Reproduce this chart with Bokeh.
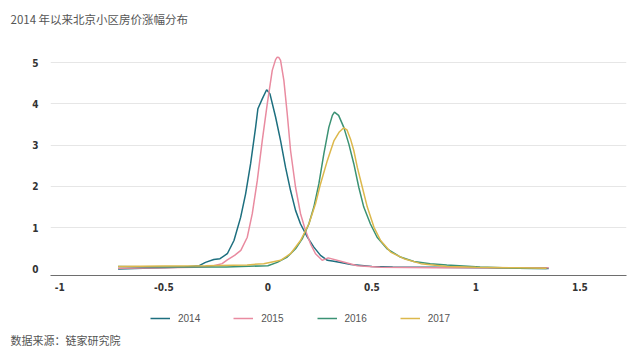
from bokeh.plotting import figure
from bokeh.layouts import column
from bokeh.models import Range1d, FixedTicker, Legend, LegendItem
from bokeh.embed import file_html
from bokeh.resources import INLINE

title_text = "2014 年以来北京小区房价涨幅分布"
source_text = "数据来源：链家研究院"
series_names = ["2014", "2015", "2016", "2017"]
colors = ["#1d6f7f", "#e98ba0", "#3b9274", "#dcb84c"]

x14 = [-0.72, -0.6, -0.5, -0.4, -0.33, -0.30, -0.26, -0.23, -0.195, -0.163, -0.131, -0.107,
       -0.083, -0.059, -0.048, -0.027, -0.006, 0.01, 0.037, 0.061, 0.085, 0.109, 0.133, 0.157,
       0.19, 0.221, 0.253, 0.286, 0.317, 0.35, 0.4, 0.5, 0.6, 0.8, 1.0, 1.2, 1.35]
y14 = [0.0, 0.02, 0.03, 0.05, 0.08, 0.16, 0.23, 0.25, 0.37, 0.69, 1.25, 1.82,
       2.55, 3.43, 3.88, 4.12, 4.34, 4.24, 3.68, 3.11, 2.46, 1.90, 1.42, 1.09,
       0.77, 0.53, 0.33, 0.21, 0.19, 0.16, 0.11, 0.06, 0.05, 0.04, 0.03, 0.02, 0.01]

x15 = [-0.72, -0.5, -0.35, -0.28, -0.26, -0.22, -0.195, -0.16, -0.13, -0.099, -0.075, -0.051,
       -0.027, -0.003, 0.021, 0.037, 0.045, 0.053, 0.061, 0.077, 0.093, 0.109, 0.133, 0.157, 0.181, 0.205,
       0.229, 0.261, 0.29, 0.35, 0.43, 0.54, 0.8, 1.1, 1.35]
y15 = [0.02, 0.03, 0.04, 0.06, 0.08, 0.13, 0.22, 0.33, 0.45, 0.77, 1.34, 2.14,
       3.11, 4.00, 4.81, 5.07, 5.13, 5.12, 5.05, 4.56, 3.76, 2.87, 1.98, 1.34, 0.93, 0.61,
       0.37, 0.21, 0.27, 0.19, 0.08, 0.04, 0.03, 0.03, 0.03]

x16 = [-0.72, -0.5, -0.2, 0.0, 0.045, 0.093, 0.133, 0.165, 0.197, 0.221, 0.245, 0.269,
       0.293, 0.31, 0.32, 0.34, 0.365, 0.389, 0.413, 0.437, 0.461, 0.493, 0.525, 0.573,
       0.637, 0.702, 0.78, 0.86, 1.02, 1.2, 1.34]
y16 = [0.06, 0.05, 0.05, 0.08, 0.16, 0.29, 0.49, 0.73, 1.09, 1.50, 2.06, 2.79,
       3.43, 3.72, 3.80, 3.72, 3.43, 3.03, 2.55, 1.98, 1.50, 1.09, 0.77, 0.49,
       0.29, 0.18, 0.13, 0.10, 0.05, 0.02, 0.01]

x17 = [-0.72, -0.5, -0.3, -0.1, -0.02, 0.061, 0.109, 0.157, 0.197, 0.229, 0.253, 0.286,
       0.318, 0.342, 0.365, 0.38, 0.397, 0.413, 0.43, 0.454, 0.478, 0.51, 0.542, 0.59,
       0.654, 0.735, 0.86, 1.0, 1.2, 1.34]
y17 = [0.06, 0.07, 0.08, 0.10, 0.13, 0.21, 0.37, 0.69, 1.09, 1.58, 2.06, 2.63,
       3.11, 3.31, 3.42, 3.37, 3.15, 2.87, 2.46, 1.98, 1.50, 1.01, 0.69, 0.41,
       0.25, 0.13, 0.06, 0.04, 0.03, 0.02]

x_ticks = [-1, -0.5, 0, 0.5, 1, 1.5]
x_tick_labels = ["-1", "-0.5", "0", "0.5", "1", "1.5"]
y_ticks = [0, 1, 2, 3, 4, 5]

tick_font = "'Liberation Sans Narrow', 'DejaVu Sans Condensed', 'Roboto', sans-serif"
cjk_font = "Noto Sans CJK SC"


def blank_fig(h, top):
    f = figure(width=640, height=h, output_backend="svg", toolbar_location=None,
               x_range=Range1d(0, 1), y_range=Range1d(0, 1),
               x_axis_location=None, y_axis_location=None,
               min_border_left=50, min_border_right=14, min_border_top=top, min_border_bottom=0,
               background_fill_color="white", border_fill_color="white")
    f.outline_line_color = None
    f.grid.visible = False
    return f


def style_title(t, size):
    t.text_font = cjk_font
    t.text_font_size = size
    t.text_font_style = "normal"
    t.text_color = "#555555"
    t.align = "left"
    t.offset = -40


# header with title
head = blank_fig(44, 31)
head.title.text = title_text
style_title(head.title, "11.5px")

# main chart (frame from y=44 to y=275)
p = figure(width=640, height=253, output_backend="svg", toolbar_location=None,
           x_range=Range1d(-1.045, 1.724), y_range=Range1d(-0.157, 5.436),
           min_border_left=50, min_border_right=14, min_border_top=0, min_border_bottom=22,
           background_fill_color="white", border_fill_color="white")
p.outline_line_color = None

p.xgrid.visible = False
p.ygrid.ticker = FixedTicker(ticks=[1, 2, 3, 4, 5])
p.ygrid.grid_line_color = "#e6e6e6"
p.ygrid.grid_line_width = 1

p.xaxis.ticker = FixedTicker(ticks=x_ticks)
p.xaxis.major_label_overrides = {t: l for t, l in zip(x_ticks, x_tick_labels)}
p.xaxis.axis_line_color = "#6e6e6e"
p.xaxis.axis_line_width = 1.2
p.xaxis.major_label_standoff = 7

p.yaxis.ticker = FixedTicker(ticks=y_ticks)
p.yaxis.axis_line_color = None
p.yaxis.major_label_standoff = 12

for ax in (p.xaxis, p.yaxis):
    ax.major_tick_line_color = None
    ax.minor_tick_line_color = None
    ax.major_tick_out = 0
    ax.major_tick_in = 0
    ax.minor_tick_out = 0
    ax.major_label_text_font = tick_font
    ax.major_label_text_font_size = "10px"
    ax.major_label_text_color = "#333333"
    ax.major_label_text_font_style = "bold"

xs = [x14, x15, x16, x17]
ys = [y14, y15, y16, y17]
for xv, yv, c in zip(xs, ys, colors):
    p.line(xv, yv, line_color=c, line_width=1.5)

# legend row (y=297..324)
leg = blank_fig(27, 0)
nan = float("nan")
items = []
for name, c in zip(series_names, colors):
    r = leg.line(x=[nan, nan], y=[nan, nan], line_color=c, line_width=1.5)
    items.append(LegendItem(label=name, renderers=[r]))
legend = Legend(items=items, orientation="horizontal", location=(100, 0),
                glyph_width=20, glyph_height=12, label_standoff=8, spacing=33,
                padding=0, margin=0, border_line_color=None, background_fill_alpha=0,
                label_text_font="Liberation Sans", label_text_font_size="10px",
                label_text_color="#555555", label_height=12)
leg.add_layout(legend, "center")

# source row (y=324..353)
src = blank_fig(29, 24)
src.title.text = source_text
style_title(src.title, "11px")

layout = column(head, p, leg, src, spacing=0)
open("out.html", "w").write(file_html(layout, INLINE))
